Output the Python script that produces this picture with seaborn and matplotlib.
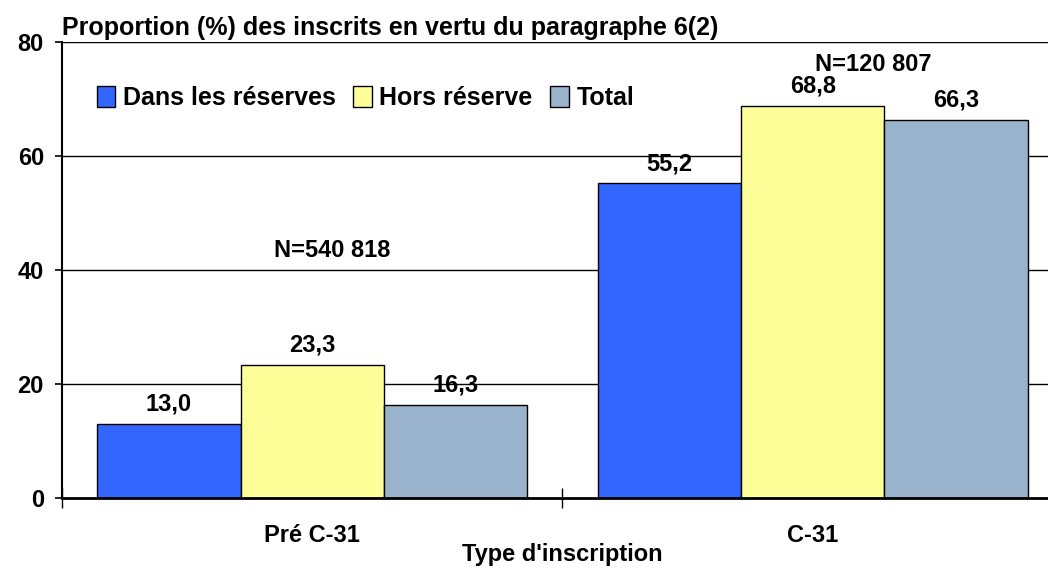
import pandas as pd
import numpy as np
import matplotlib.pyplot as plt
import seaborn as sns

# Chart data
categories = ["Pré C-31", "C-31"]
series = ["Dans les réserves", "Hors réserve", "Total"]
dans_reserves = [13.0, 55.2]
hors_reserve = [23.3, 68.8]
total = [16.3, 66.3]
n_labels = ["N=540 818", "N=120 807"]
n_label_y = [43.5, 76.0]
colors = ["#3366FF", "#FFFF99", "#99B3CC"]

df = pd.DataFrame({
    "Type": categories * 3,
    "Serie": np.repeat(series, 2),
    "Valeur": dans_reserves + hors_reserve + total,
})

sns.set_theme(style="white")
plt.rcParams['font.family'] = ['Liberation Sans', 'DejaVu Sans']
plt.rcParams['font.weight'] = 'bold'
FS = 17

fig = plt.figure(figsize=(10.48, 5.71), dpi=100)
ax = fig.add_axes([62 / 1048, 73 / 571, 1001 / 1048, 456 / 571])

sns.barplot(data=df, x="Type", y="Valeur", hue="Serie", order=categories,
            hue_order=series, palette=colors, width=0.86, edgecolor="black",
            linewidth=1, saturation=1, ax=ax)

# Value labels on bars
for cont in ax.containers:
    ax.bar_label(cont, labels=[f"{v:.1f}".replace(".", ",") for v in cont.datavalues],
                 padding=6, fontsize=FS, fontweight="bold", color="black")

# N annotations
ax.text(0.04, n_label_y[0], n_labels[0], ha="center", va="center", fontsize=FS,
        fontweight="bold", color="black")
ax.text(1.12, n_label_y[1], n_labels[1], ha="center", va="center", fontsize=FS,
        fontweight="bold", color="black")

ax.set_xlim(-0.5, 1.5)
ax.set_ylim(0, 80)
ax.set_yticks([0, 20, 40, 60, 80])
for y in [20, 40, 60, 80]:
    ax.axhline(y, color="black", linewidth=1, zorder=0)

for s in ["top", "right"]:
    ax.spines[s].set_visible(False)
ax.spines["left"].set_color("black")
ax.spines["left"].set_linewidth(1.5)
ax.spines["bottom"].set_color("black")
ax.spines["bottom"].set_linewidth(2)

ax.tick_params(axis="y", direction="out", length=5, width=1.2, color="black",
               left=True, labelsize=FS, labelcolor="black", pad=8)
ax.tick_params(axis="x", length=0, labelsize=FS, labelcolor="black", pad=19)
ax.set_xticks([-0.5, 0.5, 1.5], minor=True)
ax.tick_params(axis="x", which="minor", direction="inout", length=14, width=1, color="black", bottom=True)
for lab in ax.get_xticklabels() + ax.get_yticklabels():
    lab.set_fontweight("bold")

ax.set_xlabel("Type d'inscription", fontsize=FS, fontweight="bold", color="black")
ax.xaxis.set_label_coords(0.5, -0.098)
ax.set_ylabel("")

leg = ax.legend(loc="upper left", bbox_to_anchor=(0.012, 0.952), ncol=3, frameon=False,
                prop={"size": 18, "weight": "bold"}, handlelength=0.75, handleheight=0.9,
                handletextpad=0.3, columnspacing=0.7)
for t in leg.get_texts():
    t.set_color("black")

fig.text(62 / 1048, 1 - 28 / 571, "Proportion (%) des inscrits en vertu du paragraphe 6(2)",
         ha="left", va="center", fontsize=18, fontweight="bold", color="black")

fig.savefig("out.png", dpi=100)
